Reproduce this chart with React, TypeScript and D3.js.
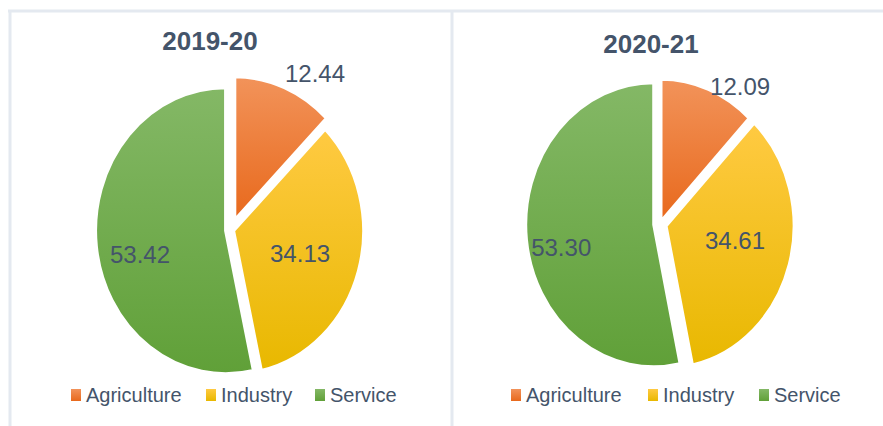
import React from 'react';
import * as d3 from 'd3';

const categories = ['Agriculture', 'Industry', 'Service'];
const years = ['2019-20', '2020-21'];
const values2019 = [12.44, 34.13, 53.42];
const values2020 = [12.09, 34.61, 53.3];
const seriesValues = [values2019, values2020];

const colorTop = ['#F2935A', '#FFCA42', '#84B866'];
const colorBottom = ['#E8691C', '#E8B800', '#60A038'];
const textColor = '#44546A';
const font = "'Liberation Sans', Arial, sans-serif";

// layout of each panel (styling/positions, not data)
const panels = [
  {
    cx: 231, cy: 230, R: 143, sx: 130 / 143,
    explode: [11, 3, 6],
    labelPolar: [[1.27, 8.2], [0.557, 1.3], [0.72, -7.4]],
    titleX: 210, titleY: 50,
    legendX: 71, legendOffsets: [0, 135, 244],
  },
  {
    cx: 660, cy: 224, R: 142, sx: 128 / 142,
    explode: [3, 7, 7],
    labelPolar: [[1.153, 11.1], [0.598, -4.3], [0.79, -6.4]],
    titleX: 651, titleY: 53,
    legendX: 511, legendOffsets: [0, 137, 248],
  },
];

const fmt = d3.format('.2f');

function Pie({ idx }: { idx: number }) {
  const p = panels[idx];
  const values = seriesValues[idx];
  const pie = d3.pie<number>().sort(null).value((d) => d).startAngle(0).endAngle(2 * Math.PI);
  const arcs = pie(values);
  const arc = d3.arc<d3.PieArcDatum<number>>().innerRadius(0).outerRadius(p.R);
  return (
    <g>
      <text x={p.titleX} y={p.titleY} textAnchor="middle" fontFamily={font} fontWeight="bold" fontSize={26} fill={textColor}>
        {years[idx]}
      </text>
      <g transform={`translate(${p.cx},${p.cy}) scale(${p.sx},1)`}>
        {arcs.map((a, i) => {
          const mid = (a.startAngle + a.endAngle) / 2;
          const dx = Math.sin(mid) * p.explode[i];
          const dy = -Math.cos(mid) * p.explode[i];
          return (
            <path
              key={i}
              d={arc(a) || ''}
              transform={`translate(${dx},${dy})`}
              fill={`url(#grad${i})`}
              stroke="#ffffff"
              strokeWidth={3}
              vectorEffect="non-scaling-stroke"
              strokeLinejoin="round"
            />
          );
        })}
      </g>
      {arcs.map((a, i) => {
        const mid = (a.startAngle + a.endAngle) / 2;
        const [k, dDeg] = p.labelPolar[i];
        const ang = mid + (dDeg * Math.PI) / 180;
        const x = p.cx + Math.sin(ang) * k * p.R * p.sx;
        const y = p.cy - Math.cos(ang) * k * p.R;
        return (
          <text key={i} x={x} y={y} textAnchor="middle" dominantBaseline="central" fontFamily={font} fontSize={24} fill={textColor}>
            {fmt(values[i])}
          </text>
        );
      })}
      {categories.map((c, i) => {
        const x = p.legendX + p.legendOffsets[i];
        return (
          <g key={c}>
            <rect x={x} y={389} width={10} height={12} fill={`url(#grad${i})`} />
            <text x={x + 15} y={402} fontFamily={font} fontSize={20} fill={textColor}>
              {c}
            </text>
          </g>
        );
      })}
    </g>
  );
}

export default function App() {
  return (
    <svg width={883} height={426} style={{ position: 'absolute', left: 0, top: 0, background: '#ffffff' }}>
      <defs>
        {categories.map((c, i) => (
          <linearGradient key={c} id={`grad${i}`} x1="0" y1="0" x2="0" y2="1">
            <stop offset="0" stopColor={colorTop[i]} />
            <stop offset="1" stopColor={colorBottom[i]} />
          </linearGradient>
        ))}
      </defs>
      <rect x={0} y={0} width={883} height={426} fill="#ffffff" />
      <line x1={8} y1={11} x2={883} y2={11} stroke="#E4E9F0" strokeWidth={3} />
      <line x1={10} y1={10} x2={10} y2={426} stroke="#E4E9F0" strokeWidth={3} />
      <line x1={452} y1={10} x2={452} y2={426} stroke="#E4E9F0" strokeWidth={3} />
      <Pie idx={0} />
      <Pie idx={1} />
    </svg>
  );
}
